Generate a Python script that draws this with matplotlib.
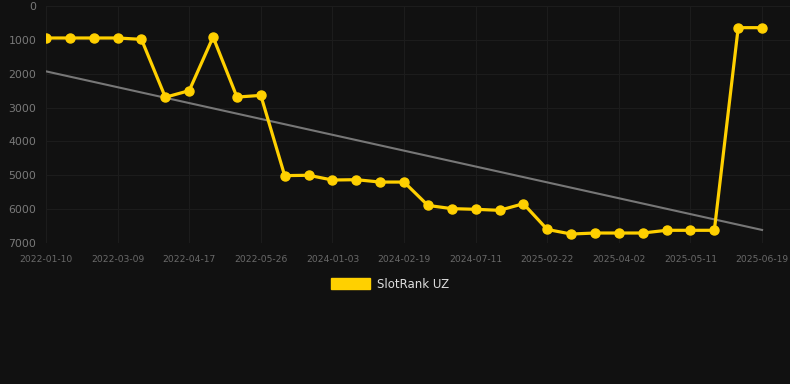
import matplotlib
matplotlib.use("Agg")
import matplotlib.pyplot as plt
import numpy as np

# one entry per observation; only every third date is printed on the axis
dates = ['2022-01-10', '2022-01-29', '2022-02-18', '2022-03-09', '2022-03-22',
         '2022-04-04', '2022-04-17', '2022-04-30', '2022-05-13', '2022-05-26',
         '2023-11-10', '2023-12-08', '2024-01-03', '2024-01-19', '2024-02-04',
         '2024-02-19', '2024-04-10', '2024-05-28', '2024-07-11', '2024-09-30',
         '2024-12-15', '2025-02-22', '2025-03-07', '2025-03-20', '2025-04-02',
         '2025-04-15', '2025-04-28', '2025-05-11', '2025-05-24', '2025-06-06',
         '2025-06-19']
rank = [945, 945, 945, 945, 985, 2695, 2500, 915, 2690, 2640,
        5010, 5000, 5140, 5130, 5200, 5200, 5890, 5985, 6005, 6035,
        5840, 6600, 6735, 6705, 6705, 6705, 6625, 6625, 6625, 640, 640]
trend_ends = [1930, 6615]
series_name = 'SlotRank UZ'

bg = '#111111'
gold = '#ffd000'

fig = plt.figure(figsize=(7.9, 3.84), dpi=100, facecolor=bg)
ax = fig.add_axes([46/790, 1 - 243/384, 744/790, 237/384])
ax.set_facecolor(bg)

x = np.arange(len(dates))
ax.plot([x[0], x[-1]], trend_ends, color='#777777', lw=1.5, zorder=2)
ax.plot(x, rank, color=gold, lw=2.3, marker='o', ms=6.5, zorder=3)

ax.set_xlim(0, 31.17)
ax.set_ylim(7000, 0)
ax.set_yticks(range(0, 7001, 1000))
ax.set_xticks(x[::3])
ax.set_xticklabels(dates[::3])

ax.grid(True, color='#1c1c1c', lw=0.8)
for s in ax.spines.values():
    s.set_visible(False)
ax.tick_params(axis='x', colors='#6a6a6a', labelsize=6.6, length=0, pad=9)
ax.tick_params(axis='y', colors='#7a7a7a', labelsize=7.8, length=0, pad=7)

handle = plt.Rectangle((0, 0), 1, 1, color=gold)
leg = fig.legend([handle], [series_name], loc='center', bbox_to_anchor=(390/790, 1 - 284/384),
                 frameon=False, fontsize=8.5, handlelength=3.3, handleheight=1.0,
                 handletextpad=0.6)
for t in leg.get_texts():
    t.set_color('#dddddd')

fig.savefig('out.png', dpi=100, facecolor=bg)
